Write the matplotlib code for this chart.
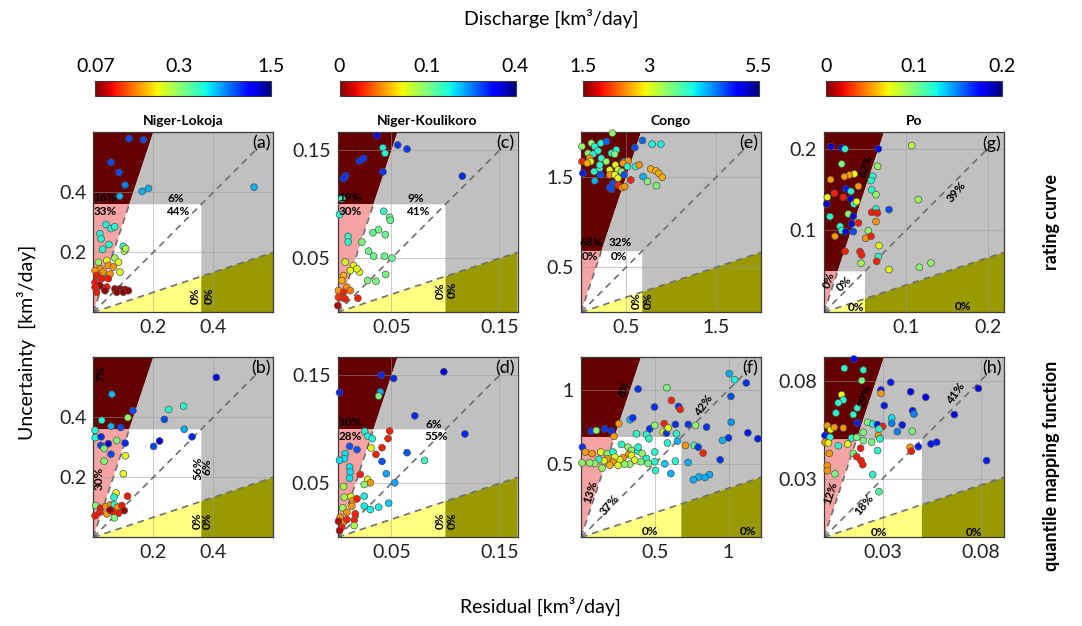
import matplotlib.pyplot as plt
import matplotlib.colors as mcolors
from matplotlib.cm import ScalarMappable
from matplotlib.ticker import NullLocator
import numpy as np

plt.rcParams['font.family'] = ['Lato', 'DejaVu Sans']

rivers = ['Niger-Lokoja', 'Niger-Koulikoro', 'Congo', 'Po']
tags = [['(a)', '(b)'], ['(c)', '(d)'], ['(e)', '(f)'], ['(g)', '(h)']]
axis_max = [[0.6, 0.6], [0.1667, 0.1667], [2.0, 1.22], [0.22, 0.092]]
box_limit = [0.36, 0.1, 0.68, 0.05]
axis_ticks = [[[0.2, 0.4], [0.2, 0.4]],
              [[0.05, 0.15], [0.05, 0.15]],
              [[0.5, 1.5], [0.5, 1]],
              [[0.1, 0.2], [0.03, 0.08]]]
cbar_ticks = [[0.07, 0.3, 1.5], [0, 0.1, 0.4], [1.5, 3, 5.5], [0, 0.1, 0.2]]
cbar_labels = [['0.07', '0.3', '1.5'], ['0', '0.1', '0.4'], ['1.5', '3', '5.5'], ['0', '0.1', '0.2']]
norms = [mcolors.LogNorm(0.07, 1.5), mcolors.PowerNorm(0.5, 0, 0.4),
         mcolors.Normalize(1.5, 5.5), mcolors.Normalize(0, 0.2)]

# residual, uncertainty, discharge
lokoja_rc = np.array([
    [0.119, 0.579, 0.82], [0.167, 0.575, 0.82], [0.059, 0.500, 0.82], [0.086, 0.466, 0.82], [0.106, 0.424, 0.7],
    [0.088, 0.387, 0.6], [0.163, 0.403, 0.6], [0.184, 0.413, 0.6], [0.536, 0.417, 0.6],
    [0.042, 0.293, 0.45], [0.059, 0.279, 0.45], [0.071, 0.285, 0.45], [0.022, 0.262, 0.45], [0.026, 0.245, 0.45],
    [0.052, 0.226, 0.45], [0.031, 0.210, 0.45], [0.100, 0.220, 0.42],
    [0.104, 0.204, 0.29], [0.108, 0.212, 0.27], [0.017, 0.167, 0.29], [0.045, 0.173, 0.22], [0.072, 0.181, 0.29],
    [0.084, 0.167, 0.22], [0.022, 0.145, 0.15], [0.050, 0.156, 0.15], [0.067, 0.151, 0.15], [0.089, 0.134, 0.22],
    [0.006, 0.139, 0.15], [0.011, 0.123, 0.1], [0.033, 0.134, 0.15], [0.056, 0.128, 0.15],
    [0.028, 0.112, 0.1], [0.050, 0.112, 0.1], [0.006, 0.100, 0.1], [0.022, 0.089, 0.075], [0.045, 0.084, 0.1],
    [0.039, 0.072, 0.075], [0.072, 0.078, 0.075], [0.089, 0.078, 0.075], [0.106, 0.076, 0.075], [0.078, 0.067, 0.075],
    [0.100, 0.067, 0.075], [0.117, 0.072, 0.075], [0.011, 0.067, 0.1], [0.006, 0.084, 0.1]])

lokoja_qm = np.array([
    [0.410, 0.533, 1.0], [0.062, 0.477, 0.6], [0.132, 0.422, 0.82], [0.115, 0.399, 0.29], [0.028, 0.390, 0.45],
    [0.059, 0.370, 0.6], [0.091, 0.366, 0.82], [0.251, 0.426, 0.45], [0.301, 0.437, 0.45], [0.237, 0.393, 0.82],
    [0.303, 0.360, 0.6], [0.329, 0.335, 0.9], [0.221, 0.321, 1.2], [0.201, 0.303, 0.82], [0.006, 0.357, 0.45],
    [0.006, 0.332, 0.45], [0.026, 0.335, 0.9], [0.050, 0.312, 1.2], [0.025, 0.306, 0.82], [0.036, 0.296, 0.32],
    [0.078, 0.323, 0.32], [0.106, 0.314, 0.9], [0.059, 0.277, 0.82], [0.036, 0.254, 0.32], [0.107, 0.272, 0.22],
    [0.100, 0.212, 0.22], [0.076, 0.148, 0.22], [0.069, 0.134, 0.45], [0.114, 0.137, 0.1], [0.008, 0.106, 0.32],
    [0.024, 0.097, 0.1], [0.042, 0.103, 0.15], [0.058, 0.109, 0.15], [0.070, 0.109, 0.45], [0.080, 0.100, 0.15],
    [0.095, 0.106, 0.1], [0.103, 0.089, 0.075], [0.084, 0.080, 0.1], [0.067, 0.084, 0.1], [0.045, 0.078, 0.15],
    [0.022, 0.084, 0.1], [0.006, 0.072, 0.1], [0.070, 0.065, 0.32], [0.056, 0.091, 0.075]])

koulikoro_rc = np.array([
    [0.0366, 0.1636, 0.30], [0.0558, 0.1549, 0.27], [0.0644, 0.1512, 0.27], [0.0421, 0.1524, 0.15], [0.0440, 0.1472, 0.15],
    [0.0204, 0.1400, 0.27], [0.0242, 0.1425, 0.27], [0.0421, 0.1301, 0.27], [0.0074, 0.1264, 0.27], [0.0056, 0.1239, 0.27],
    [0.1156, 0.1261, 0.28], [0.0040, 0.1053, 0.15], [0.0019, 0.0905, 0.15], [0.0428, 0.0936, 0.14], [0.0483, 0.0880, 0.11],
    [0.0489, 0.0852, 0.11], [0.0099, 0.0703, 0.14], [0.0099, 0.0651, 0.14], [0.0328, 0.0737, 0.11], [0.0381, 0.0765, 0.11],
    [0.0443, 0.0719, 0.11], [0.0226, 0.0651, 0.1], [0.0288, 0.0567, 0.11], [0.0335, 0.0520, 0.11], [0.0434, 0.0520, 0.11],
    [0.0505, 0.0502, 0.11], [0.0446, 0.0350, 0.1], [0.0356, 0.0288, 0.1], [0.0279, 0.0294, 0.1], [0.0204, 0.0372, 0.055],
    [0.0149, 0.0434, 0.055], [0.0071, 0.0465, 0.06], [0.0118, 0.0387, 0.055], [0.0180, 0.0403, 0.055], [0.0056, 0.0341, 0.03],
    [0.0040, 0.0294, 0.03], [0.0087, 0.0232, 0.025], [0.0009, 0.0201, 0.025], [0.0056, 0.0186, 0.006], [0.0009, 0.0139, 0.008],
    [0.0071, 0.0124, 0.006], [0.0189, 0.0130, 0.006], [0.0003, 0.0062, 0.001], [0.0118, 0.0201, 0.02]])

koulikoro_qm = np.array([
    [0.0985, 0.1533, 0.33], [0.0406, 0.1502, 0.28], [0.0520, 0.1471, 0.28], [0.0019, 0.1341, 0.28], [0.0397, 0.1348, 0.2],
    [0.0381, 0.1307, 0.1], [0.0716, 0.1125, 0.28], [0.1180, 0.0957, 0.28], [0.0251, 0.0982, 0.15], [0.0282, 0.0936, 0.15],
    [0.0322, 0.0914, 0.15], [0.0483, 0.0985, 0.006], [0.0468, 0.0914, 0.006], [0.0112, 0.0843, 0.25], [0.0180, 0.0812, 0.25],
    [0.0310, 0.0827, 0.055], [0.0412, 0.0830, 0.006], [0.0356, 0.0768, 0.006], [0.0644, 0.0784, 0.25], [0.0071, 0.0774, 0.17],
    [0.0065, 0.0728, 0.17], [0.0019, 0.0712, 0.17], [0.0412, 0.0703, 0.25], [0.0806, 0.0712, 0.13], [0.0112, 0.0651, 0.17],
    [0.0118, 0.0604, 0.17], [0.0112, 0.0548, 0.17], [0.0452, 0.0589, 0.2], [0.0530, 0.0505, 0.2], [0.0211, 0.0582, 0.006],
    [0.0279, 0.0536, 0.055], [0.0304, 0.0505, 0.025], [0.0248, 0.0489, 0.09], [0.0056, 0.0471, 0.08], [0.0062, 0.0372, 0.08],
    [0.0124, 0.0378, 0.055], [0.0143, 0.0341, 0.025], [0.0180, 0.0356, 0.006], [0.0248, 0.0381, 0.16], [0.0248, 0.0288, 0.16],
    [0.0304, 0.0257, 0.16], [0.0381, 0.0279, 0.16], [0.0474, 0.0316, 0.18], [0.0133, 0.0288, 0.025], [0.0050, 0.0273, 0.08],
    [0.0087, 0.0232, 0.025], [0.0164, 0.0217, 0.006], [0.0025, 0.0186, 0.025], [0.0056, 0.0139, 0.025], [0.0009, 0.0149, 0.001],
    [0.0087, 0.0164, 0.006], [0.0155, 0.0161, 0.006], [0.0155, 0.0108, 0.08], [0.0040, 0.0093, 0.006], [0.0019, 0.0062, 0.001]])

congo_rc = np.array([
    [0.349, 1.99, 3.4], [0.011, 1.842, 3.4], [0.115, 1.879, 3.4], [0.152, 1.842, 3.9], [0.219, 1.879, 3.9],
    [0.282, 1.897, 4.6], [0.078, 1.768, 3.4], [0.134, 1.757, 3.9], [0.189, 1.794, 3.9], [0.338, 1.768, 3.9],
    [0.393, 1.805, 3.9], [0.375, 1.757, 3.5], [0.096, 1.712, 2.5], [0.011, 1.675, 2.0], [0.108, 1.675, 3.0],
    [0.226, 1.712, 3.9], [0.282, 1.675, 3.4], [0.022, 1.545, 4.9], [0.145, 1.564, 3.9], [0.208, 1.601, 3.9],
    [0.219, 1.527, 4.7], [0.152, 1.461, 4.3], [0.319, 1.582, 3.0], [0.382, 1.638, 3.0], [0.412, 1.582, 3.0],
    [0.449, 1.564, 3.4], [0.479, 1.675, 4.3], [0.523, 1.682, 2.5], [0.468, 1.656, 2.5], [0.516, 1.620, 3.9],
    [0.319, 1.527, 2.5], [0.375, 1.527, 3.0], [0.412, 1.490, 3.0], [0.479, 1.527, 4.7], [0.338, 1.367, 4.7],
    [0.319, 1.385, 4.7], [0.356, 1.433, 4.7], [0.412, 1.415, 2.0], [0.457, 1.385, 2.5], [0.486, 1.396, 2.5],
    [0.553, 1.470, 2.0], [0.598, 1.831, 4.7], [0.683, 1.909, 4.6], [0.791, 1.868, 4.0], [0.887, 1.868, 4.0],
    [0.605, 1.620, 3.9], [0.646, 1.638, 2.5], [0.690, 1.508, 4.3], [0.739, 1.453, 3.5], [0.776, 1.593, 2.6],
    [0.832, 1.571, 2.6], [0.865, 1.545, 2.6], [0.902, 1.501, 2.6], [0.839, 1.407, 3.5], [0.208, 1.638, 3.9],
    [0.070, 1.656, 2.6]])

congo_qm = np.array([
    [0.387, 1.005, 4.8], [0.582, 1.014, 3.5], [0.613, 0.928, 2.0], [0.661, 0.887, 4.8], [0.672, 0.867, 2.0],
    [0.498, 0.883, 4.8], [0.333, 0.797, 4.3], [0.351, 0.810, 4.8], [1.005, 1.109, 4.3], [1.041, 1.068, 4.0],
    [1.120, 1.046, 4.8], [1.016, 0.955, 4.7], [1.018, 0.780, 4.4], [1.131, 0.708, 4.9], [1.199, 0.668, 4.9],
    [1.000, 0.674, 4.8], [0.959, 0.657, 4.3], [0.943, 0.525, 4.8], [0.871, 0.425, 4.3],
    [0.070, 0.720, 4.8], [0.104, 0.724, 3.4], [0.161, 0.735, 4.8], [0.206, 0.720, 4.8], [0.224, 0.684, 2.5],
    [0.256, 0.770, 2.5], [0.376, 0.701, 3.9], [0.444, 0.697, 3.9], [0.466, 0.735, 4.8], [0.500, 0.758, 3.4],
    [0.460, 0.668, 3.9], [0.564, 0.770, 2.0], [0.557, 0.713, 3.0], [0.579, 0.706, 4.8], [0.591, 0.742, 3.0],
    [0.640, 0.765, 4.8], [0.647, 0.701, 3.9], [0.727, 0.765, 4.8], [0.776, 0.758, 3.4], [0.851, 0.747, 4.8],
    [0.586, 0.639, 3.9], [0.654, 0.652, 4.3], [0.708, 0.623, 2.5], [0.767, 0.623, 3.7], [0.794, 0.611, 4.8],
    [0.828, 0.571, 2.0], [0.010, 0.611, 4.8], [0.030, 0.578, 2.5], [0.075, 0.567, 2.5], [0.134, 0.578, 3.0],
    [0.179, 0.567, 3.4], [0.217, 0.578, 3.9], [0.274, 0.630, 3.9], [0.319, 0.611, 3.4], [0.342, 0.589, 3.4],
    [0.324, 0.562, 2.5], [0.342, 0.555, 3.0], [0.387, 0.585, 3.9], [0.387, 0.611, 3.9], [0.414, 0.567, 3.4],
    [0.443, 0.534, 3.9], [0.500, 0.578, 3.9], [0.500, 0.512, 3.9], [0.455, 0.501, 3.5], [0.405, 0.512, 3.5],
    [0.364, 0.523, 3.0], [0.330, 0.496, 3.4], [0.285, 0.539, 2.5], [0.262, 0.526, 3.0], [0.229, 0.544, 3.0],
    [0.217, 0.510, 2.5], [0.179, 0.533, 2.5], [0.156, 0.519, 3.0], [0.120, 0.528, 3.9], [0.093, 0.500, 3.4],
    [0.143, 0.469, 3.4], [0.195, 0.489, 2.6], [0.007, 0.504, 3.4], [0.059, 0.504, 3.4], [0.251, 0.487, 3.0],
    [0.296, 0.496, 3.4], [0.505, 0.453, 3.9], [0.568, 0.498, 4.2], [0.640, 0.516, 3.9], [0.609, 0.432, 4.3],
    [0.726, 0.507, 4.3], [0.799, 0.409, 4.3], [0.840, 0.405, 4.3], [0.761, 0.390, 4.3]])

po_rc = np.array([
    [0.0086, 0.2025, 0.185], [0.0216, 0.2009, 0.185], [0.0257, 0.1997, 0.12], [0.0664, 0.1997, 0.175], [0.1072, 0.2037, 0.085],
    [0.0216, 0.1813, 0.1], [0.0656, 0.1785, 0.095], [0.0371, 0.1691, 0.074], [0.0310, 0.1679, 0.05], [0.0249, 0.1658, 0.05],
    [0.0081, 0.1622, 0.05], [0.0595, 0.1663, 0.12], [0.0575, 0.1610, 0.12], [0.0420, 0.1540, 0.05], [0.0269, 0.1508, 0.17],
    [0.0330, 0.1479, 0.12], [0.0583, 0.1496, 0.12], [0.0636, 0.1438, 0.095], [0.0126, 0.1455, 0.024], [0.0041, 0.1406, 0.074],
    [0.0236, 0.1406, 0.024], [0.0326, 0.1385, 0.185], [0.0367, 0.1324, 0.12], [0.0399, 0.1353, 0.074], [0.0033, 0.1324, 0.185],
    [0.1153, 0.1377, 0.09], [0.0073, 0.1170, 0.12], [0.0297, 0.1202, 0.095], [0.0359, 0.1174, 0.185], [0.0338, 0.1080, 0.185],
    [0.0420, 0.1092, 0.024], [0.0636, 0.1263, 0.12], [0.0583, 0.1222, 0.024], [0.0652, 0.1214, 0.024], [0.0795, 0.1255, 0.16],
    [0.0636, 0.1108, 0.05], [0.0196, 0.1051, 0.12], [0.0216, 0.0998, 0.12], [0.0265, 0.0986, 0.185], [0.0359, 0.0986, 0.16],
    [0.0134, 0.0929, 0.05], [0.0542, 0.0998, 0.095], [0.0509, 0.0905, 0.05], [0.0575, 0.0929, 0.024], [0.0672, 0.0815, 0.074],
    [0.0257, 0.0746, 0.024], [0.0440, 0.0742, 0.024], [0.0460, 0.0701, 0.024], [0.0664, 0.0681, 0.12], [0.0644, 0.0623, 0.024],
    [0.0452, 0.0599, 0.09], [0.0795, 0.0522, 0.074], [0.1165, 0.0550, 0.095], [0.1308, 0.0603, 0.095]])

po_qm = np.array([
    [0.0153, 0.0911, 0.175], [0.0104, 0.0864, 0.12], [0.0201, 0.0855, 0.12], [0.0193, 0.0801, 0.1], [0.0341, 0.0792, 0.17],
    [0.0291, 0.0753, 0.17], [0.0291, 0.0736, 0.05], [0.0090, 0.0729, 0.074], [0.0099, 0.0702, 0.12], [0.0073, 0.0687, 0.12],
    [0.0170, 0.0661, 0.12], [0.0061, 0.0635, 0.12], [0.0150, 0.0627, 0.12], [0.0308, 0.0673, 0.17], [0.0443, 0.0744, 0.18],
    [0.0520, 0.0716, 0.18], [0.0453, 0.0647, 0.17], [0.0460, 0.0630, 0.15], [0.0666, 0.0627, 0.18], [0.0789, 0.0761, 0.18],
    [0.0831, 0.0392, 0.17], [0.0170, 0.0584, 0.17], [0.0223, 0.0588, 0.1], [0.0249, 0.0579, 0.12], [0.0273, 0.0576, 0.17],
    [0.0300, 0.0567, 0.024], [0.0281, 0.0554, 0.12], [0.0346, 0.0610, 0.13], [0.0346, 0.0583, 0.15], [0.0400, 0.0574, 0.17],
    [0.0375, 0.0540, 0.15], [0.0451, 0.0542, 0.1], [0.0017, 0.0571, 0.05], [0.0034, 0.0550, 0.074], [0.0053, 0.0562, 0.05],
    [0.0099, 0.0559, 0.05], [0.0005, 0.0520, 0.17], [0.0031, 0.0511, 0.12], [0.0005, 0.0486, 0.05], [0.0022, 0.0482, 0.074],
    [0.0073, 0.0468, 0.12], [0.0121, 0.0477, 0.074], [0.0141, 0.0508, 0.12], [0.0167, 0.0511, 0.1], [0.0201, 0.0537, 0.1],
    [0.0201, 0.0494, 0.1], [0.0244, 0.0486, 0.1], [0.0278, 0.0520, 0.05], [0.0286, 0.0503, 0.12], [0.0187, 0.0455, 0.024],
    [0.0150, 0.0429, 0.1], [0.0167, 0.0412, 0.024], [0.0189, 0.0392, 0.024], [0.0198, 0.0371, 0.024], [0.0274, 0.0443, 0.12],
    [0.0440, 0.0460, 0.05], [0.0446, 0.0440, 0.024], [0.0482, 0.0463, 0.17], [0.0547, 0.0477, 0.17], [0.0576, 0.0486, 0.17],
    [0.0027, 0.0429, 0.05], [0.0017, 0.0366, 0.05], [0.0017, 0.0341, 0.05], [0.0056, 0.0324, 0.1], [0.0249, 0.0320, 0.12],
    [0.0281, 0.0233, 0.11]])

points = [[lokoja_rc, lokoja_qm], [koulikoro_rc, koulikoro_qm], [congo_rc, congo_qm], [po_rc, po_qm]]

# share of points per zone: text, residual, uncertainty, angle
shares = [
    [[('16%', 0.039, 0.382, 0), ('33%', 0.039, 0.337, 0), ('6%', 0.275, 0.379, 0), ('44%', 0.282, 0.337, 0),
      ('0%', 0.340, 0.054, 90), ('0%', 0.386, 0.054, 90)],
     [('7%', 0.025, 0.546, 90), ('30%', 0.020, 0.195, 90), ('56%', 0.348, 0.229, 90), ('6%', 0.379, 0.234, 90),
      ('0%', 0.348, 0.054, 90), ('0%', 0.381, 0.054, 90)]],
    [[('19%', 0.0118, 0.106, 0), ('30%', 0.0118, 0.093, 0), ('9%', 0.0722, 0.1053, 0), ('41%', 0.0747, 0.0929, 0),
      ('0%', 0.0948, 0.0201, 90), ('0%', 0.1063, 0.021, 90)],
     [('10%', 0.0118, 0.106, 0), ('28%', 0.0118, 0.0936, 0), ('6%', 0.0892, 0.1047, 0), ('55%', 0.0917, 0.0936, 0),
      ('0%', 0.0948, 0.0149, 90), ('0%', 0.1063, 0.0149, 90)]],
    [[('68%', 0.119, 0.772, 0), ('0%', 0.100, 0.623, 0), ('32%', 0.442, 0.772, 0), ('0%', 0.427, 0.623, 0),
      ('0%', 0.612, 0.130, 90), ('0%', 0.75, 0.13, 90)],
     [('6%', 0.287, 1.007, 72), ('42%', 0.835, 0.894, 55), ('13%', 0.066, 0.306, 72), ('37%', 0.192, 0.222, 50),
      ('0%', 0.469, 0.038, 0), ('0%', 1.129, 0.038, 0)]],
    [[('62%', 0.0513, 0.179, 72), ('39%', 0.162, 0.1475, 50), ('0%', 0.0065, 0.040, 72), ('0%', 0.025, 0.035, 45),
      ('0%', 0.039, 0.006, 0), ('0%', 0.170, 0.007, 0)],
     [('29%', 0.021, 0.0724, 72), ('41%', 0.0675, 0.0733, 55), ('12%', 0.0034, 0.0225, 72), ('18%', 0.0204, 0.0167, 50),
      ('0%', 0.0281, 0.0026, 0), ('0%', 0.0767, 0.0026, 0)]],
]

W, H = 1082, 626
fig = plt.figure(figsize=(W / 100, H / 100), dpi=100)
col_left = [93.3, 337.5, 581, 824]
row_top = [132.3, 357.3]
side = 180

dark, pink, grey, yellow, olive = '#650000', '#f6a3a3', '#c0c0c0', '#ffff80', '#999900'


def zones(ax, M, T):
    ax.fill([0, T / 3, M / 3, 0], [T, T, M, M], color=dark, lw=0, zorder=0.5)
    ax.fill([0, T / 3, 0], [0, T, T], color=pink, lw=0, zorder=0.5)
    ax.fill([0, T / 3, T, T], [0, T, T, T / 3], color='white', lw=0, zorder=0.5)
    ax.fill([T / 3, M / 3, M, M, T, T], [T, M, M, M / 3, T / 3, T], color=grey, lw=0, zorder=0.5)
    ax.fill([0, T, T], [0, T / 3, 0], color=yellow, lw=0, zorder=0.5)
    ax.fill([T, T, M, M], [0, T / 3, M / 3, 0], color=olive, lw=0, zorder=0.5)
    dash = dict(color='#707070', lw=1.2, dashes=(4, 3), zorder=2)
    ax.plot([0, 0.93 * M], [0, 0.93 * M], **dash)
    ax.plot([0, M], [0, M / 3], **dash)
    ax.plot([0, T / 3], [0, T], **dash)


for i in range(4):
    for j in range(2):
        M = axis_max[i][j]
        T = box_limit[i]
        ax = fig.add_axes([col_left[i] / W, 1 - (row_top[j] + side) / H, side / W, side / H])
        zones(ax, M, T)
        d = points[i][j]
        ax.scatter(d[:, 0], d[:, 1], c=d[:, 2], cmap='jet_r', norm=norms[i], s=24,
                   edgecolors='#505050', linewidths=0.5, zorder=3, clip_on=False)
        for txt, x, y, rot in shares[i][j]:
            ax.text(x, y, txt, rotation=rot, ha='center', va='center', fontsize=8.5,
                    fontweight='bold', zorder=4, rotation_mode='anchor')
        ax.text(0.985, 0.985, tags[i][j], transform=ax.transAxes, ha='right', va='top',
                fontsize=13, zorder=5)
        ax.set_xlim(0, M)
        ax.set_ylim(0, M)
        tk = axis_ticks[i][j]
        ax.set_xticks(tk)
        ax.set_yticks(tk)
        ax.set_xticklabels([f'{t:g}' for t in tk])
        ax.set_yticklabels([f'{t:g}' for t in tk])
        ax.tick_params(length=0, labelsize=14, pad=5, colors='#222222')
        ax.set_axisbelow('line')
        ax.grid(True, color='#9a9a9a', lw=0.6, alpha=0.6)
        for s in ax.spines.values():
            s.set_color('#3a3a3a')
            s.set_linewidth(0.9)
        if j == 0:
            ax.set_title(rivers[i], fontsize=10, fontweight='bold', pad=5)

    cax = fig.add_axes([(col_left[i] + 2) / W, 1 - 96 / H, 176 / W, 15 / H])
    cb = fig.colorbar(ScalarMappable(norm=norms[i], cmap='jet_r'), cax=cax,
                      orientation='horizontal', ticklocation='top')
    cb.set_ticks(cbar_ticks[i])
    cb.set_ticklabels(cbar_labels[i])
    cax.xaxis.set_minor_locator(NullLocator())
    cax.tick_params(length=0, labelsize=14, pad=4)
    cb.outline.set_edgecolor('#3a3a3a')
    cb.outline.set_linewidth(0.8)

fig.text(551 / W, 1 - 18 / H, 'Discharge [km³/day]', ha='center', va='center', fontsize=14)
fig.text(540 / W, 1 - 606 / H, 'Residual [km³/day]', ha='center', va='center', fontsize=14)
fig.text(26 / W, 1 - 342 / H, 'Uncertainty  [km³/day]', ha='center', va='center', fontsize=14, rotation=90)
fig.text(1052 / W, 1 - 222 / H, 'rating curve', ha='center', va='center', fontsize=13,
         fontweight='bold', rotation=90)
fig.text(1052 / W, 1 - 466 / H, 'quantile mapping function', ha='center', va='center', fontsize=13,
         fontweight='bold', rotation=90)

fig.savefig('out.png', dpi=100)
